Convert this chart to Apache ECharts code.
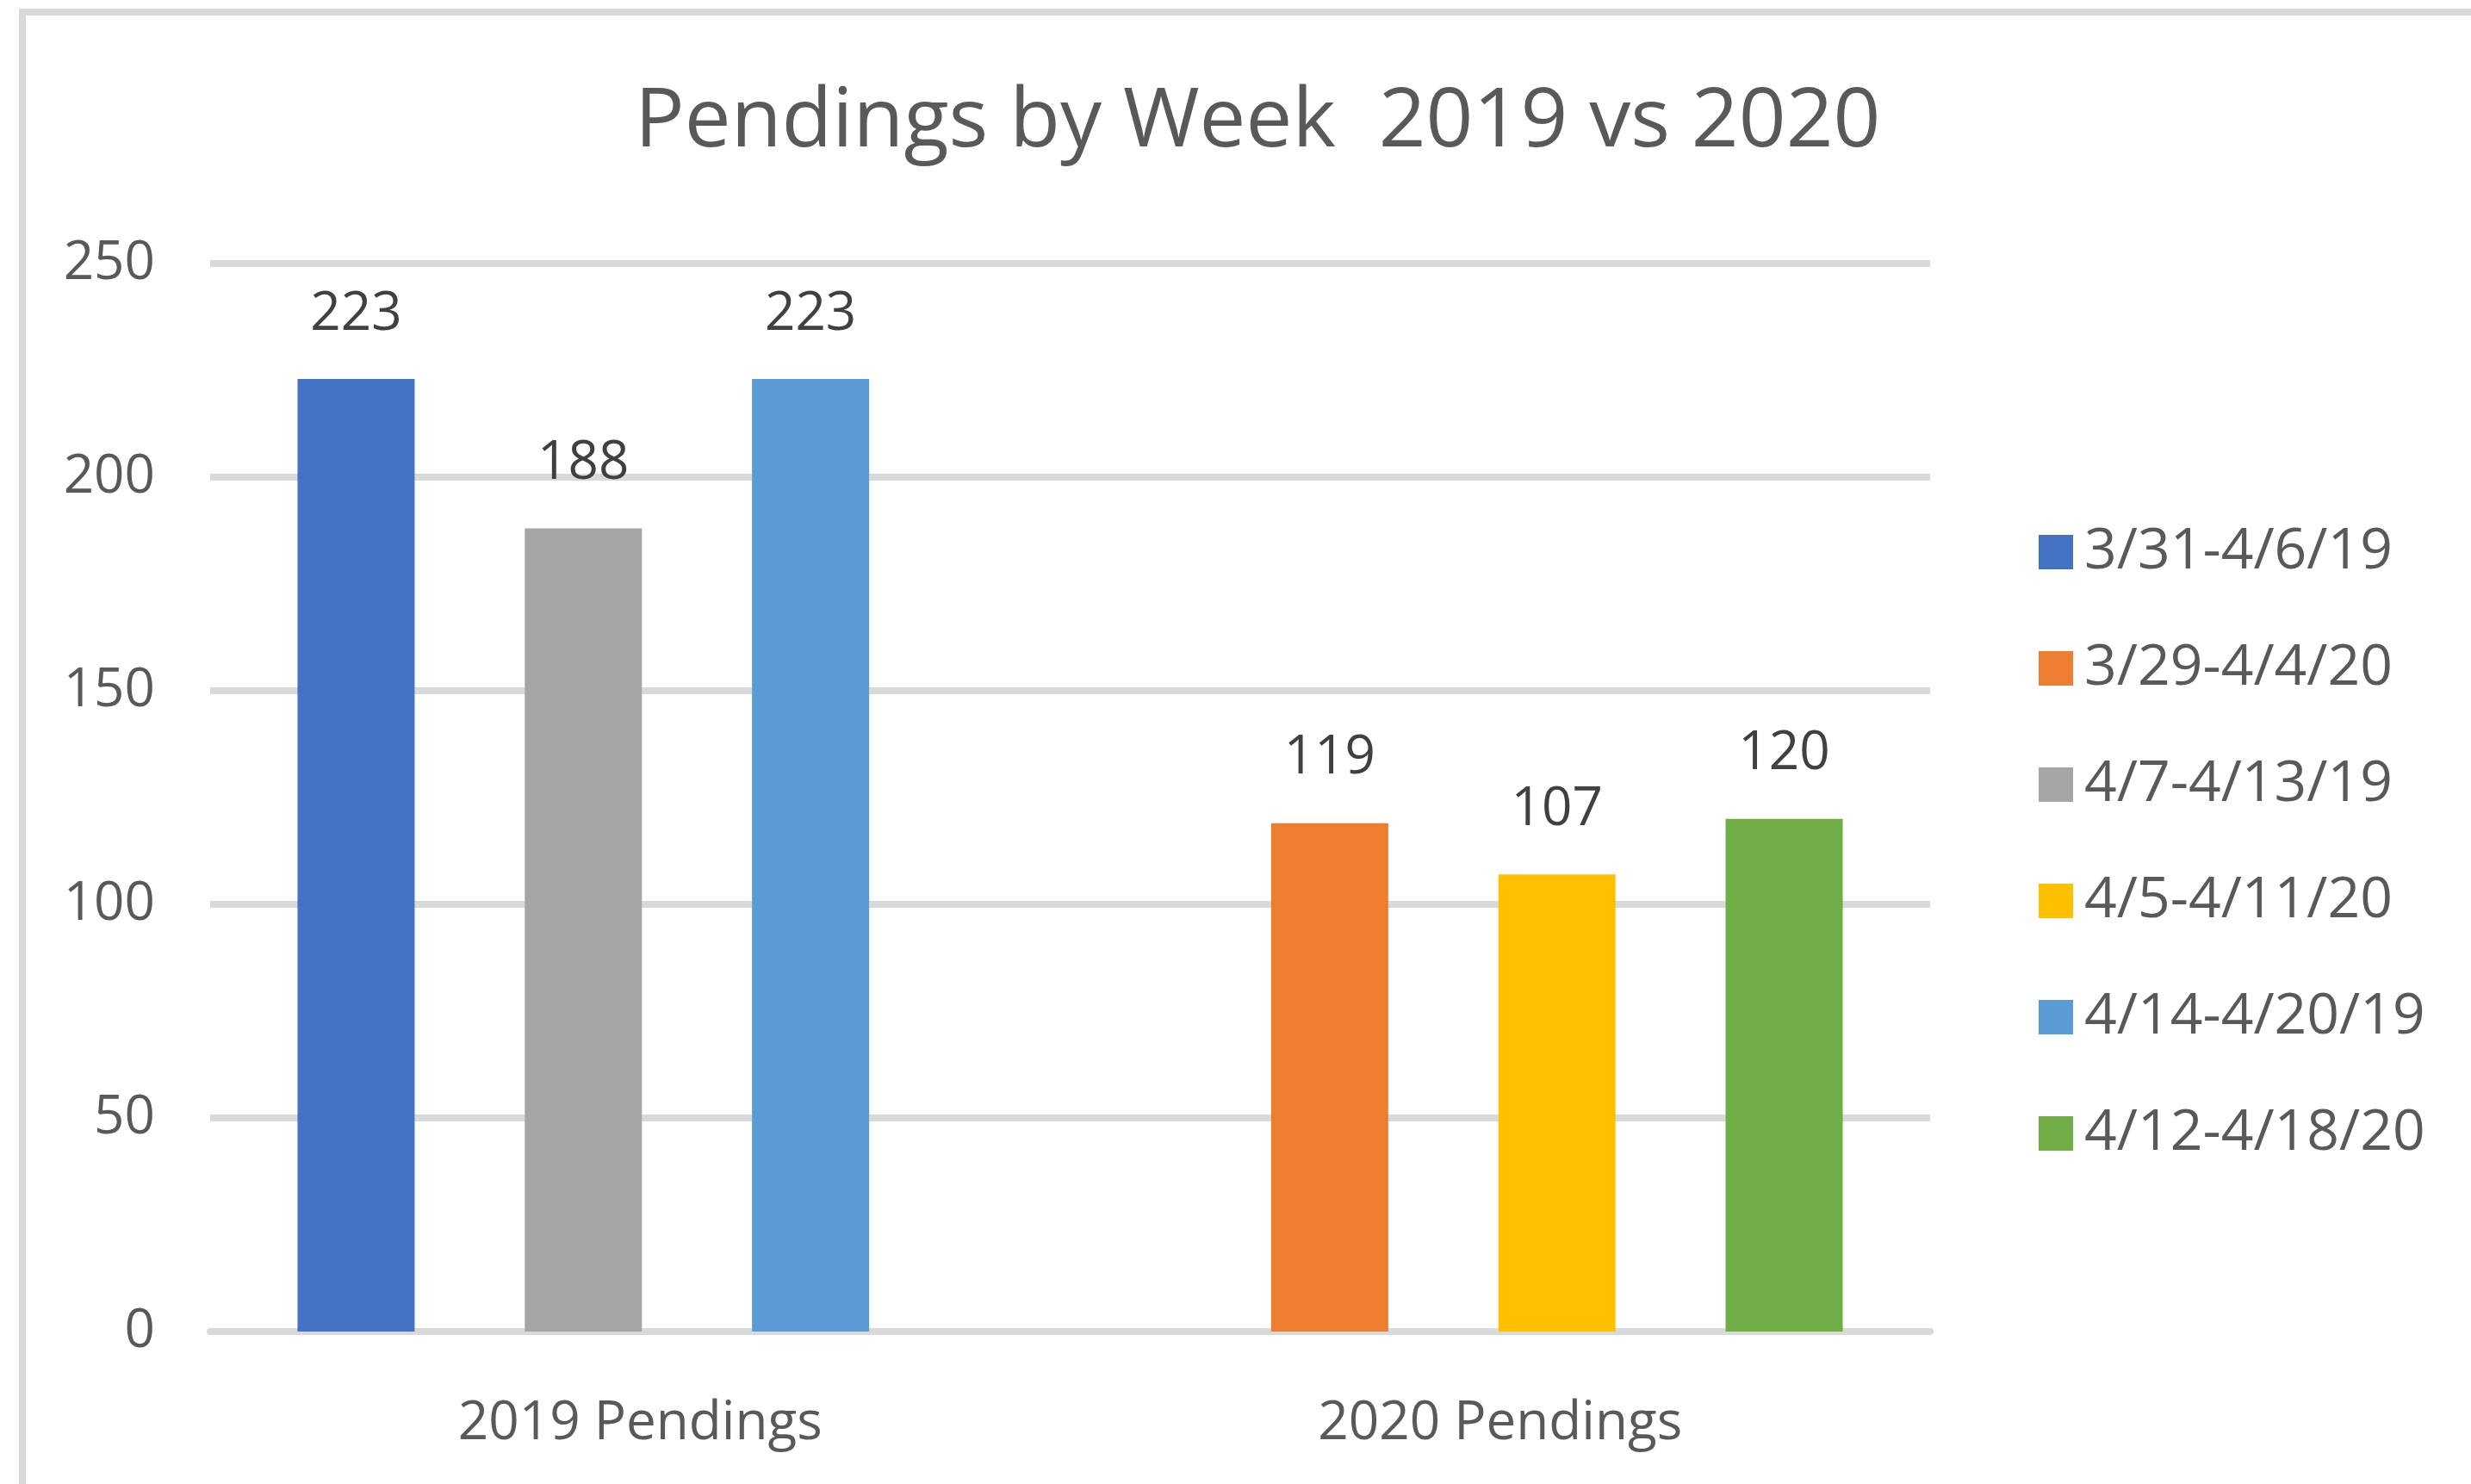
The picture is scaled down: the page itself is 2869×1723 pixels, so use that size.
<!DOCTYPE html>
<html>
<head>
<meta charset="utf-8">
<title>Pendings by Week 2019 vs 2020</title>
<script src="https://cdn.jsdelivr.net/npm/echarts@6/dist/echarts.min.js"></script>
<style>
  html, body { margin: 0; padding: 0; background: #fff; }
  #chart { width: 2869px; height: 1723px; }
</style>
</head>
<body>
<div id="chart"></div>
<script>
// categories on the x axis
const categories = ['2019 Pendings', '2020 Pendings']
// legend / series names, in the order Excel lists them
const weekNames = ['3/31-4/6/19', '3/29-4/4/20', '4/7-4/13/19', '4/5-4/11/20', '4/14-4/20/19', '4/12-4/18/20']
// value of each week series, per category (null = no bar in that category)
const week1Values = [223, null]
const week2Values = [null, 119]
const week3Values = [188, null]
const week4Values = [null, 107]
const week5Values = [223, null]
const week6Values = [null, 120]
const weekValues = [week1Values, week2Values, week3Values, week4Values, week5Values, week6Values]
// Office palette
const colors = ['#4472C4', '#ED7D31', '#A5A5A5', '#FFC000', '#5B9BD5', '#70AD47']

const chart = echarts.init(document.getElementById('chart'))

const FONT = 'Open Sans'

chart.setOption({
  backgroundColor: '#ffffff',
  animation: false,
  color: colors,
  // light grey chart-area border (runs off the right and bottom)
  graphic: [{
    type: 'rect',
    left: 22,
    top: 10,
    shape: { width: 2900, height: 1760 },
    style: { fill: 'none', stroke: '#d9d9d9', lineWidth: 8 },
    silent: true
  }],
  title: {
    text: 'Pendings by Week  2019 vs 2020',
    left: 732,
    top: 90,
    textStyle: {
      fontFamily: FONT,
      fontWeight: 'normal',
      fontSize: 96,
      color: '#595959'
    }
  },
  legend: {
    orient: 'vertical',
    left: 2362,
    top: 603,
    icon: 'rect',
    itemWidth: 40,
    itemHeight: 40,
    itemGap: 69,
    data: weekNames,
    textStyle: {
      fontFamily: FONT,
      fontSize: 66,
      color: '#595959',
      padding: [0, 0, 0, 8]
    }
  },
  grid: {
    left: 244,
    right: 628,
    top: 306,
    bottom: 177,
    containLabel: false
  },
  xAxis: {
    type: 'category',
    data: categories,
    axisLine: { lineStyle: { color: '#d9d9d9', width: 8 } },
    axisTick: { show: false },
    axisLabel: {
      margin: 76,
      fontFamily: FONT,
      fontSize: 62,
      color: '#595959'
    }
  },
  yAxis: {
    type: 'value',
    min: 0,
    max: 250,
    interval: 50,
    axisLine: { show: false },
    axisTick: { show: false },
    axisLabel: {
      margin: 64,
      fontFamily: FONT,
      fontSize: 62,
      color: '#595959'
    },
    splitLine: { lineStyle: { color: '#d9d9d9', width: 8 } }
  },
  series: weekNames.map((name, i) => ({
    name: name,
    type: 'bar',
    barWidth: 136,
    barGap: '-3%',
    data: weekValues[i],
    label: {
      show: true,
      position: 'top',
      distance: 44,
      fontFamily: FONT,
      fontSize: 62,
      color: '#404040'
    }
  }))
})
</script>
</body>
</html>
